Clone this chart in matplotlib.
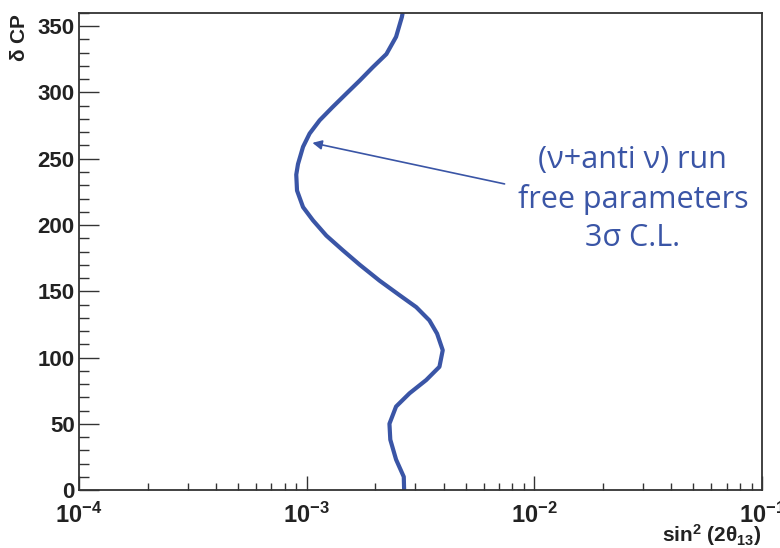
import numpy as np
import matplotlib
matplotlib.use("Agg")
import matplotlib.pyplot as plt
from matplotlib.ticker import LogLocator, MultipleLocator, FuncFormatter

plt.rcParams['mathtext.fontset'] = 'custom'
plt.rcParams['mathtext.rm'] = 'Liberation Sans'
plt.rcParams['mathtext.bf'] = 'Liberation Sans:bold'
plt.rcParams['mathtext.it'] = 'Liberation Sans:italic'

# 3 sigma contour, (nu + anti-nu) run, free parameters
delta_cp = [0, 10, 23, 38, 50, 63, 73, 83, 93, 105.5, 118, 128, 138, 147, 158,
            170, 181, 192, 203.5, 213.5, 226, 238, 246, 259, 269, 279, 289,
            299, 309, 319, 329, 342, 357, 360]
sin2_2th13 = [2.68e-3, 2.67e-3, 2.47e-3, 2.33e-3, 2.31e-3, 2.47e-3, 2.83e-3,
              3.35e-3, 3.83e-3, 3.96e-3, 3.74e-3, 3.46e-3, 3.03e-3, 2.56e-3,
              2.09e-3, 1.71e-3, 1.44e-3, 1.22e-3, 1.066e-3, 0.964e-3,
              0.907e-3, 0.900e-3, 0.916e-3, 0.964e-3, 1.03e-3, 1.14e-3,
              1.30e-3, 1.49e-3, 1.71e-3, 1.95e-3, 2.24e-3, 2.47e-3, 2.62e-3,
              2.64e-3]

blue = "#3a55a6"
axcol = "#333333"
txtcol = "#222222"

fig = plt.figure(figsize=(7.8, 5.48), dpi=100)
ax = fig.add_axes([0.1013, 0.1058, 0.8756, 0.8705])

ax.plot(sin2_2th13, delta_cp, color=blue, lw=3.0, solid_joinstyle='round',
        solid_capstyle='butt')

ax.set_xscale('log')
ax.set_xlim(1e-4, 1e-1)
ax.set_ylim(0, 360)

ax.yaxis.set_major_locator(MultipleLocator(50))
ax.yaxis.set_minor_locator(MultipleLocator(10))
ax.xaxis.set_major_locator(LogLocator(base=10))
ax.xaxis.set_minor_locator(LogLocator(base=10, subs=np.arange(2, 10)))
ax.xaxis.set_minor_formatter(FuncFormatter(lambda v, p: ""))
ax.xaxis.set_major_formatter(FuncFormatter(
    lambda v, p: r"$\mathbf{10^{%d}}$" % int(round(np.log10(v)))))

ax.tick_params(axis='y', which='major', direction='in', length=14.5, width=1.0,
               color=axcol, labelsize=16, pad=3, right=False)
ax.tick_params(axis='y', which='minor', direction='in', length=7.2, width=1.0,
               color=axcol, right=False)
ax.tick_params(axis='x', which='major', direction='in', length=10, width=1.0,
               color=axcol, labelsize=17, pad=9, top=False)
ax.tick_params(axis='x', which='minor', direction='in', length=5, width=1.0,
               color=axcol, top=False)
for lab in ax.get_yticklabels():
    lab.set_fontweight('bold')
    lab.set_fontfamily('Liberation Sans')
    lab.set_color(txtcol)
for lab in ax.get_xticklabels():
    lab.set_color(txtcol)

for s in ax.spines.values():
    s.set_color(axcol)
    s.set_linewidth(1.3)

ax.set_ylabel(r"$\mathbf{\delta\ CP}$", loc='top', fontsize=15, labelpad=6,
              color=txtcol)
ax.set_xlabel(r"$\mathbf{sin^{2}\ (2\theta_{13})}$", loc='right', fontsize=15,
              labelpad=-4, color=txtcol)

ax.annotate("", xy=(1.06e-3, 262), xytext=(7.4e-3, 231),
            arrowprops=dict(arrowstyle="-|>", color=blue, lw=1.2,
                            mutation_scale=14, shrinkA=0, shrinkB=0))
ax.text(0.811, 0.61, "(ν+anti ν) run\nfree parameters\n3σ C.L.",
        transform=ax.transAxes, ha='center', va='center', color=blue,
        fontsize=22, family=['Open Sans', 'DejaVu Sans'], linespacing=1.35)

fig.savefig("out.png", dpi=100)
